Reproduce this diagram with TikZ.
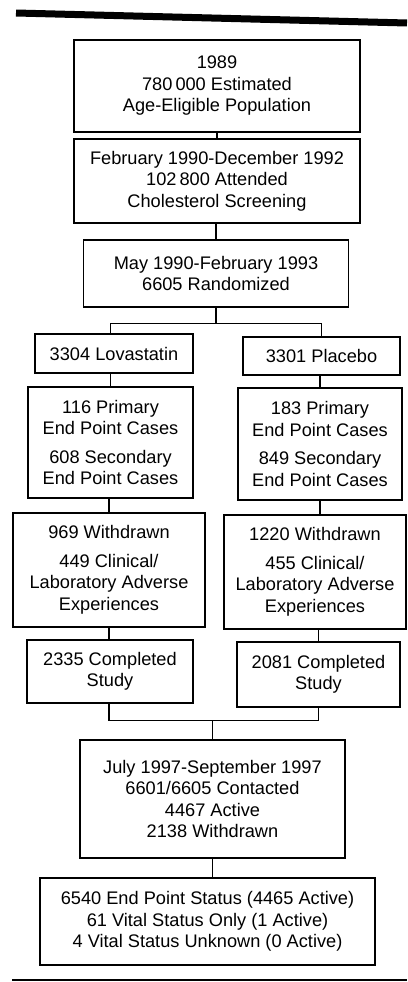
\documentclass[tikz,border=0pt]{standalone}
\usepackage{fontspec}
\setmainfont{Liberation Sans}
\usepackage{tikz}
\tikzstyle{box}=[draw, line width=1.3pt, align=center, inner sep=0pt,
                 font=\fontsize{18.2}{21.5}\selectfont]
\tikzstyle{link}=[line width=1.3pt]
\tikzstyle{bar}=[line cap=butt]

\begin{document}
\begin{tikzpicture}[x=1pt, y=-1pt]
            \useasboundingbox (0, 0) rectangle (407, 982);
            % rules at top and bottom
            \draw[bar, line width=7pt] (16, 13) -- (407, 23);
            \draw[bar, line width=2.5pt] (12, 980) -- (407, 980);
            % main column
            \node[box, minimum width=286pt, minimum height=92pt] (yr) at (217, 86)
                {1989\\780\,000 Estimated\\Age-Eligible Population};
            \node[box, minimum width=286pt, minimum height=84pt] (scr) at (217, 181)
                {February 1990-December 1992\\102\,800 Attended\\Cholesterol Screening};
            \node[box, minimum width=265pt, minimum height=67pt] (rnd) at (216, 273.5)
                {May 1990-February 1993\\6605 Randomized};
            % lovastatin arm
            \node[box, minimum width=158pt, minimum height=39pt] (lov) at (114, 353.5)
                {3304 Lovastatin};
            \node[box, minimum width=165pt, minimum height=111pt] (lep) at (110.5, 442.5)
                {116 Primary\\End Point Cases\\[7pt]608 Secondary\\End Point Cases};
            \node[box, minimum width=192pt, minimum height=114pt] (lwd) at (109, 570)
                {969 Withdrawn\\[7pt]449 Clinical/\\Laboratory Adverse\\Experiences};
            \node[box, minimum width=166pt, minimum height=63pt] (lcs) at (110, 671.5)
                {2335 Completed\\Study};
            % placebo arm
            \node[box, minimum width=157pt, minimum height=38pt] (pla) at (321.5, 356)
                {3301 Placebo};
            \node[box, minimum width=164pt, minimum height=112pt] (pep) at (320, 444)
                {183 Primary\\End Point Cases\\[7pt]849 Secondary\\End Point Cases};
            \node[box, minimum width=182pt, minimum height=114pt] (pwd) at (315, 572)
                {1220 Withdrawn\\[7pt]455 Clinical/\\Laboratory Adverse\\Experiences};
            \node[box, minimum width=163pt, minimum height=65pt] (pcs) at (318.5, 674.5)
                {2081 Completed\\Study};
            % follow-up
            \node[box, minimum width=265pt, minimum height=118pt] (fu) at (212.5, 799)
                {July 1997-September 1997\\6601/6605 Contacted\\4467 Active\\2138 Withdrawn};
            \node[box, minimum width=335pt, minimum height=87pt] (st) at (207.5, 921.5)
                {6540 End Point Status (4465 Active)\\61 Vital Status Only (1 Active)\\4 Vital Status Unknown (0 Active)};
            % connectors
            \draw[link] (scr.north) -- (scr.north |- yr.south);
            \draw[link] (rnd.north) -- (rnd.north |- scr.south);
            \path (rnd.south) ++(0, 16) coordinate (split);
            \draw[link] (rnd.south) -- (split);
            \draw[link] (lov.north -| lep.north) |- (split) -| (pla.north);
            \draw[link] (lep.north) -- (lep.north |- lov.south);
            \draw[link] (pep.north) -- (pep.north |- pla.south);
            \draw[link] (lwd.north) -- (lwd.north |- lep.south);
            \draw[link] (pep.south) -- (pep.south |- pwd.north);
            \draw[link] (lwd.south) -- (lwd.south |- lcs.north);
            \draw[link] (pcs.north) -- (pcs.north |- pwd.south);
            \path (fu.north) ++(0, -19) coordinate (join);
            \draw[link] (lcs.south -| lwd.south) |- (join) -| (pcs.south);
            \draw[link] (join) -- (fu.north);
            \draw[link] (fu.south) -- (fu.south |- st.north);
        \end{tikzpicture}
\end{document}
